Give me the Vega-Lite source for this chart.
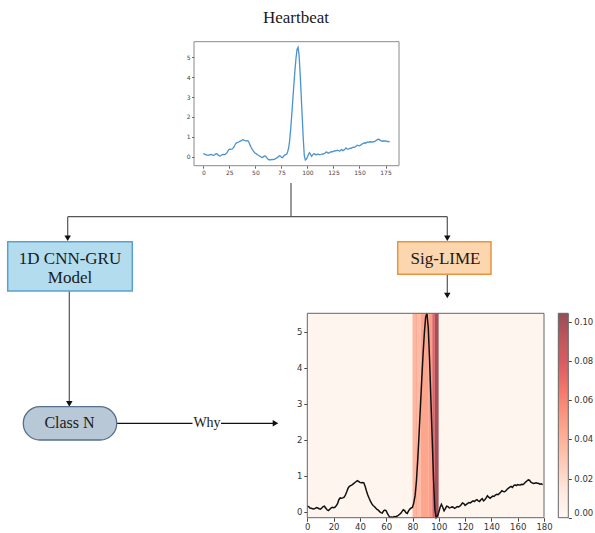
{
  "$schema": "https://vega.github.io/schema/vega-lite/v6.json",
  "width": 595,
  "height": 533,
  "padding": 0,
  "autosize": "none",
  "background": "white",
  "view": {"stroke": null},
  "config": {"font": "DejaVu Sans"},
  "datasets": {
    "ecg": [
      {"t":0,"v":0.15},{"t":1,"v":0.14},{"t":2,"v":0.10},{"t":3,"v":0.09},{"t":4,"v":0.08},{"t":5,"v":0.07},{"t":6,"v":0.09},{"t":7,"v":0.11},{"t":8,"v":0.10},{"t":9,"v":0.08},
      {"t":10,"v":0.07},{"t":11,"v":0.10},{"t":12,"v":0.14},{"t":13,"v":0.15},{"t":14,"v":0.10},{"t":15,"v":0.05},{"t":16,"v":0.03},{"t":17,"v":0.06},{"t":18,"v":0.10},{"t":19,"v":0.12},
      {"t":20,"v":0.11},{"t":21,"v":0.12},{"t":22,"v":0.16},{"t":23,"v":0.22},{"t":24,"v":0.33},{"t":25,"v":0.38},{"t":26,"v":0.37},{"t":27,"v":0.38},{"t":28,"v":0.40},{"t":29,"v":0.46},
      {"t":30,"v":0.55},{"t":31,"v":0.65},{"t":32,"v":0.70},{"t":33,"v":0.72},{"t":34,"v":0.74},{"t":35,"v":0.77},{"t":36,"v":0.80},{"t":37,"v":0.83},{"t":38,"v":0.86},{"t":39,"v":0.84},
      {"t":40,"v":0.81},{"t":41,"v":0.80},{"t":42,"v":0.81},{"t":43,"v":0.80},{"t":44,"v":0.70},{"t":45,"v":0.57},{"t":46,"v":0.46},{"t":47,"v":0.37},{"t":48,"v":0.29},{"t":49,"v":0.22},
      {"t":50,"v":0.17},{"t":51,"v":0.14},{"t":52,"v":0.10},{"t":53,"v":0.06},{"t":54,"v":0.04},{"t":55,"v":0.00},{"t":56,"v":-0.03},{"t":57,"v":-0.04},{"t":58,"v":0.02},{"t":59,"v":0.04},
      {"t":60,"v":0.02},{"t":61,"v":-0.06},{"t":62,"v":-0.12},{"t":63,"v":-0.16},{"t":64,"v":-0.15},{"t":65,"v":-0.16},{"t":66,"v":-0.14},{"t":67,"v":-0.15},{"t":68,"v":-0.13},{"t":69,"v":-0.11},
      {"t":70,"v":-0.08},{"t":71,"v":-0.05},{"t":72,"v":0.00},{"t":73,"v":0.05},{"t":74,"v":0.03},{"t":75,"v":-0.03},{"t":76,"v":-0.05},{"t":77,"v":0.02},{"t":78,"v":0.07},{"t":79,"v":0.10},
      {"t":80,"v":0.12},{"t":81,"v":0.25},{"t":82,"v":0.45},{"t":83,"v":0.85},{"t":84,"v":1.45},{"t":85,"v":2.15},{"t":86,"v":2.90},{"t":87,"v":3.65},{"t":88,"v":4.35},{"t":89,"v":4.95},
      {"t":90,"v":5.40},{"t":91,"v":5.51},{"t":92,"v":5.10},{"t":93,"v":4.20},{"t":94,"v":3.10},{"t":95,"v":2.00},{"t":96,"v":0.90},{"t":97,"v":0.05},{"t":98,"v":-0.17},{"t":99,"v":-0.12},
      {"t":100,"v":-0.02},{"t":101,"v":0.12},{"t":102,"v":0.20},{"t":103,"v":0.12},{"t":104,"v":0.02},{"t":105,"v":0.08},{"t":106,"v":0.15},{"t":107,"v":0.14},{"t":108,"v":0.10},{"t":109,"v":0.11},
      {"t":110,"v":0.13},{"t":111,"v":0.12},{"t":112,"v":0.09},{"t":113,"v":0.11},{"t":114,"v":0.14},{"t":115,"v":0.13},{"t":116,"v":0.15},{"t":117,"v":0.19},{"t":118,"v":0.24},{"t":119,"v":0.22},
      {"t":120,"v":0.17},{"t":121,"v":0.20},{"t":122,"v":0.23},{"t":123,"v":0.25},{"t":124,"v":0.24},{"t":125,"v":0.27},{"t":126,"v":0.30},{"t":127,"v":0.28},{"t":128,"v":0.31},{"t":129,"v":0.33},
      {"t":130,"v":0.30},{"t":131,"v":0.28},{"t":132,"v":0.33},{"t":133,"v":0.36},{"t":134,"v":0.30},{"t":135,"v":0.33},{"t":136,"v":0.38},{"t":137,"v":0.44},{"t":138,"v":0.40},{"t":139,"v":0.37},
      {"t":140,"v":0.40},{"t":141,"v":0.43},{"t":142,"v":0.42},{"t":143,"v":0.46},{"t":144,"v":0.48},{"t":145,"v":0.47},{"t":146,"v":0.50},{"t":147,"v":0.54},{"t":148,"v":0.58},{"t":149,"v":0.56},
      {"t":150,"v":0.55},{"t":151,"v":0.58},{"t":152,"v":0.62},{"t":153,"v":0.65},{"t":154,"v":0.68},{"t":155,"v":0.70},{"t":156,"v":0.67},{"t":157,"v":0.72},{"t":158,"v":0.74},{"t":159,"v":0.72},
      {"t":160,"v":0.75},{"t":161,"v":0.74},{"t":162,"v":0.74},{"t":163,"v":0.76},{"t":164,"v":0.75},{"t":165,"v":0.78},{"t":166,"v":0.82},{"t":167,"v":0.85},{"t":168,"v":0.88},{"t":169,"v":0.87},
      {"t":170,"v":0.82},{"t":171,"v":0.80},{"t":172,"v":0.78},{"t":173,"v":0.79},{"t":174,"v":0.80},{"t":175,"v":0.79},{"t":176,"v":0.78},{"t":177,"v":0.76},{"t":178,"v":0.77},{"t":179,"v":0.75}
    ]
  },
  "resolve": {"scale": {"x": "independent", "y": "independent"}},
  "layer": [
    {
      "layer": [
        {
          "data": {"values": [
            {"x": 291, "y": 183, "x2": 291, "y2": 216.7},
            {"x": 67.7, "y": 216.7, "x2": 447.3, "y2": 216.7},
            {"x": 67.7, "y": 216.7, "x2": 67.7, "y2": 236},
            {"x": 447.3, "y": 216.7, "x2": 447.3, "y2": 236},
            {"x": 69.3, "y": 291, "x2": 69.3, "y2": 401},
            {"x": 447.3, "y": 274.3, "x2": 447.3, "y2": 293}
          ]},
          "mark": {"type": "rule", "color": "#555555", "strokeWidth": 1.2},
          "encoding": {
            "x": {"field": "x", "type": "quantitative", "scale": {"domain": [0, 595], "range": [0, 595], "nice": false, "zero": false}, "axis": null},
            "y": {"field": "y", "type": "quantitative", "scale": {"domain": [0, 533], "range": [0, 533], "nice": false, "zero": false}, "axis": null},
            "x2": {"field": "x2"},
            "y2": {"field": "y2"}
          }
        },
        {
          "data": {"values": [
            {"x": 116.7, "y": 423.3, "x2": 192.5, "y2": 423.3},
            {"x": 221, "y": 423.3, "x2": 274, "y2": 423.3}
          ]},
          "mark": {"type": "rule", "color": "#111111", "strokeWidth": 1.2},
          "encoding": {
            "x": {"field": "x", "type": "quantitative", "axis": null},
            "y": {"field": "y", "type": "quantitative", "axis": null},
            "x2": {"field": "x2"},
            "y2": {"field": "y2"}
          }
        },
        {
          "data": {"values": [
            {"x": 67.7, "y": 238.2},
            {"x": 447.3, "y": 238.2},
            {"x": 447.3, "y": 295.5},
            {"x": 69.3, "y": 403.9}
          ]},
          "mark": {"type": "point", "shape": "triangle-down", "filled": true, "color": "#111111", "size": 42, "opacity": 1},
          "encoding": {
            "x": {"field": "x", "type": "quantitative", "axis": null},
            "y": {"field": "y", "type": "quantitative", "axis": null}
          }
        },
        {
          "data": {"values": [{"x": 275.5, "y": 423.3}]},
          "mark": {"type": "point", "shape": "triangle-right", "filled": true, "color": "#111111", "size": 42, "opacity": 1},
          "encoding": {
            "x": {"field": "x", "type": "quantitative", "axis": null},
            "y": {"field": "y", "type": "quantitative", "axis": null}
          }
        },
        {
          "data": {"values": [{"node": "1D CNN-GRU Model", "x": 7.7, "x2": 132.3, "y": 241.7, "y2": 291}]},
          "mark": {"type": "rect", "fill": "#b3dcef", "stroke": "#5aa2cc", "strokeWidth": 1.5},
          "encoding": {
            "x": {"field": "x", "type": "quantitative", "axis": null},
            "x2": {"field": "x2"},
            "y": {"field": "y", "type": "quantitative", "axis": null},
            "y2": {"field": "y2"}
          }
        },
        {
          "data": {"values": [{"node": "Sig-LIME", "x": 397.7, "x2": 491, "y": 241.7, "y2": 274.3}]},
          "mark": {"type": "rect", "fill": "#fcd6ae", "stroke": "#e8943f", "strokeWidth": 1.5},
          "encoding": {
            "x": {"field": "x", "type": "quantitative", "axis": null},
            "x2": {"field": "x2"},
            "y": {"field": "y", "type": "quantitative", "axis": null},
            "y2": {"field": "y2"}
          }
        },
        {
          "data": {"values": [{"node": "Class N", "x": 23.3, "x2": 116.7, "y": 406.7, "y2": 440}]},
          "mark": {"type": "rect", "fill": "#b8c8d6", "stroke": "#56718c", "strokeWidth": 1.3, "cornerRadius": 16.6},
          "encoding": {
            "x": {"field": "x", "type": "quantitative", "axis": null},
            "x2": {"field": "x2"},
            "y": {"field": "y", "type": "quantitative", "axis": null},
            "y2": {"field": "y2"}
          }
        },
        {
          "data": {"values": [
            {"label": "Heartbeat", "x": 296, "y": 22.7},
            {"label": "1D CNN-GRU", "x": 70, "y": 264},
            {"label": "Model", "x": 70, "y": 282.7},
            {"label": "Sig-LIME", "x": 445.5, "y": 264.3}
          ]},
          "mark": {"type": "text", "font": "Liberation Serif", "fontSize": 17, "color": "#1a1a1a", "align": "center", "baseline": "alphabetic"},
          "encoding": {
            "x": {"field": "x", "type": "quantitative", "axis": null},
            "y": {"field": "y", "type": "quantitative", "axis": null},
            "text": {"field": "label"}
          }
        },
        {
          "data": {"values": [{"label": "Class N", "x": 69.5, "y": 428.3}]},
          "mark": {"type": "text", "font": "Liberation Serif", "fontSize": 16, "color": "#1a1a1a", "align": "center", "baseline": "alphabetic"},
          "encoding": {
            "x": {"field": "x", "type": "quantitative", "axis": null},
            "y": {"field": "y", "type": "quantitative", "axis": null},
            "text": {"field": "label"}
          }
        },
        {
          "data": {"values": [{"label": "Why", "x": 207, "y": 426.7}]},
          "mark": {"type": "text", "font": "Liberation Serif", "fontSize": 14, "color": "#1a1a1a", "align": "center", "baseline": "alphabetic"},
          "encoding": {
            "x": {"field": "x", "type": "quantitative", "axis": null},
            "y": {"field": "y", "type": "quantitative", "axis": null},
            "text": {"field": "label"}
          }
        }
      ]
    },
    {
      "layer": [
        {
          "data": {"values": [{}]},
          "mark": {"type": "rect", "fill": null, "stroke": "#8a8a8a", "strokeWidth": 1},
          "encoding": {
            "x": {"datum": -8.95, "type": "quantitative", "scale": {"domain": [-8.95, 187.95], "range": [194, 399], "nice": false, "zero": false}, "axis": {"orient": "bottom", "offset": -367.3, "values": [0, 25, 50, 75, 100, 125, 150, 175], "format": "d", "title": null, "domain": false, "grid": false, "labelFontSize": 6, "labelColor": "#444444", "tickColor": "#666666", "tickSize": 2.5, "labelPadding": 1.5, "labelFlush": false}},
            "x2": {"datum": 187.95},
            "y": {"datum": -0.454, "type": "quantitative", "scale": {"domain": [-0.454, 5.794], "range": [165.7, 41.7], "nice": false, "zero": false}, "axis": {"orient": "left", "offset": -194, "values": [0, 1, 2, 3, 4, 5], "format": "d", "title": null, "domain": false, "grid": false, "labelFontSize": 6, "labelColor": "#444444", "tickColor": "#666666", "tickSize": 2.5, "labelPadding": 1.5, "labelFlush": false}},
            "y2": {"datum": 5.794}
          }
        },
        {
          "data": {"name": "ecg"},
          "mark": {"type": "line", "color": "#4a93cf", "strokeWidth": 1.3},
          "encoding": {
            "x": {"field": "t", "type": "quantitative"},
            "y": {"field": "v", "type": "quantitative"}
          }
        }
      ]
    },
    {
      "layer": [
        {
          "data": {"values": [
            {"start": 0, "end": 8, "weight": 0.003},
            {"start": 8, "end": 9, "weight": 0.006},
            {"start": 9, "end": 19, "weight": 0.003},
            {"start": 19, "end": 20, "weight": 0.007},
            {"start": 20, "end": 80, "weight": 0.003},
            {"start": 80, "end": 82, "weight": 0.038},
            {"start": 82, "end": 84, "weight": 0.043},
            {"start": 84, "end": 86, "weight": 0.036},
            {"start": 86, "end": 92, "weight": 0.046},
            {"start": 92, "end": 95, "weight": 0.049},
            {"start": 95, "end": 97, "weight": 0.075},
            {"start": 97, "end": 100, "weight": 0.1},
            {"start": 100, "end": 180, "weight": 0.003}
          ]},
          "mark": {"type": "rect", "strokeWidth": 0},
          "encoding": {
            "x": {"field": "start", "type": "quantitative", "scale": {"domain": [0, 180], "range": [307.3, 544], "nice": false, "zero": false}, "axis": {"orient": "bottom", "offset": -15.3, "values": [0, 20, 40, 60, 80, 100, 120, 140, 160, 180], "format": "d", "title": null, "domain": false, "grid": false, "labelFontSize": 8.5, "labelColor": "#333333", "tickColor": "#444444", "tickSize": 3.5, "labelPadding": 1.5, "labelFlush": false}},
            "x2": {"field": "end"},
            "y": {"datum": -0.17, "type": "quantitative", "scale": {"domain": [-0.17, 5.51], "range": [517.7, 313.3], "nice": false, "zero": false}, "axis": {"orient": "left", "offset": -307.3, "values": [0, 1, 2, 3, 4, 5], "format": "d", "title": null, "domain": false, "grid": false, "labelFontSize": 8.5, "labelColor": "#333333", "tickColor": "#444444", "tickSize": 3.5, "labelPadding": 2, "labelFlush": false}},
            "y2": {"datum": 5.51},
            "color": {
              "field": "weight",
              "type": "quantitative",
              "scale": {
                "domain": [0, 0.01305, 0.0261, 0.03915, 0.0522, 0.06525, 0.0783, 0.09135, 0.1044],
                "range": ["#fff8f4", "#fee9e0", "#fdcfbd", "#fdb39c", "#fc9780", "#f4766b", "#db5d61", "#c0575b", "#954d56"]
              },
              "legend": {"orient": "none", "legendX": 558.3, "legendY": 313.3, "direction": "vertical", "gradientLength": 204.4, "gradientThickness": 10, "gradientStrokeColor": "#666666", "gradientStrokeWidth": 1, "title": null, "values": [0, 0.02, 0.04, 0.06, 0.08, 0.1], "format": ".2f", "labelFontSize": 8.5, "labelColor": "#333333", "labelOffset": 6, "labelOverlap": false, "padding": 0}
            }
          }
        },
        {
          "data": {"name": "ecg"},
          "mark": {"type": "line", "color": "#111111", "strokeWidth": 1.5},
          "encoding": {
            "x": {"field": "t", "type": "quantitative"},
            "y": {"field": "v", "type": "quantitative"}
          }
        },
        {
          "data": {"values": [{}]},
          "mark": {"type": "rect", "fill": null, "stroke": "#666666", "strokeWidth": 1},
          "encoding": {
            "x": {"datum": 0, "type": "quantitative"},
            "x2": {"datum": 180},
            "y": {"datum": -0.17, "type": "quantitative"},
            "y2": {"datum": 5.51}
          }
        }
      ]
    },
    {
      "data": {"values": [{}]},
      "mark": {"type": "point", "opacity": 0},
      "encoding": {
        "y": {"datum": 0, "type": "quantitative", "scale": {"domain": [0, 0.1044], "range": [517.7, 313.3], "nice": false, "zero": false}, "axis": {"orient": "right", "offset": -26.7, "values": [0, 0.02, 0.04, 0.06, 0.08, 0.1], "labels": false, "title": null, "domain": false, "grid": false, "tickColor": "#444444", "tickSize": 3}}
      }
    }
  ]
}
